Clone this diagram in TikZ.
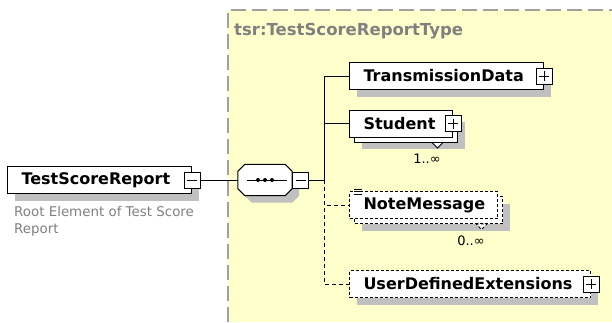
\documentclass[tikz,border=0pt]{standalone}
\usepackage{fontspec}
\setmainfont{DejaVu Sans}
\usetikzlibrary{shadows}

\definecolor{panelyellow}{HTML}{FFFFCC}
\definecolor{shadowgray}{HTML}{C0C0C0}
\definecolor{notegray}{HTML}{808080}
\definecolor{bordergray}{HTML}{A0A0A0}

\begin{document}
\begin{tikzpicture}[
    x=1pt, y=-1pt,
    elem/.style={rectangle, draw, fill=white, line width=1pt, minimum height=27pt, inner xsep=14pt, inner ysep=0pt, align=left, anchor=west, font=\bfseries\fontsize{16pt}{18pt}\selectfont},
    optional/.style={dash pattern=on 3pt off 2pt},
    shadowed/.style={drop shadow={shadow xshift=7pt, shadow yshift=-7pt, fill=shadowgray, opacity=1}},
    pm/.style={rectangle, draw, fill=white, line width=0.9pt, minimum size=16pt, inner sep=0pt},
    minus/.style={pm, path picture={\draw[line width=0.9pt] ([xshift=3pt]path picture bounding box.west) -- ([xshift=-3pt]path picture bounding box.east);}},
    plus/.style={pm, path picture={\draw[line width=0.9pt] ([xshift=3pt]path picture bounding box.west) -- ([xshift=-3pt]path picture bounding box.east) ([yshift=-3pt]path picture bounding box.north) -- ([yshift=3pt]path picture bounding box.south);}},
    seqbox/.style={rectangle, minimum width=54pt, minimum height=31pt, inner sep=0pt},
    octagon/.style={insert path={([xshift=7pt]#1.north west) -- ([xshift=-7pt]#1.north east) -- ([yshift=-7pt]#1.north east) -- ([yshift=7pt]#1.south east) -- ([xshift=-7pt]#1.south east) -- ([xshift=7pt]#1.south west) -- ([yshift=7pt]#1.south west) -- ([yshift=-7pt]#1.north west) -- cycle}},
    conn/.style={line width=1pt},
    optconn/.style={line width=1pt, dash pattern=on 4pt off 3pt},
    occurs/.style={font=\fontsize{13pt}{15pt}\selectfont}
]
\useasboundingbox (0,0) rectangle (612,322);

% Complex type panel
\fill[panelyellow] (228,10) rectangle (612,322);
\draw[bordergray, line width=1.5pt, dash pattern=on 15pt off 6pt] (228,322) -- (228,10) -- (612,10);
\node[font=\bfseries\fontsize{16.5pt}{18pt}\selectfont, text=notegray, anchor=west, inner sep=0pt] (typename) at (234,31) {tsr:TestScoreReportType};

% Root element
\node[elem, shadowed, text width=156pt] (tsr) at (7,180) {TestScoreReport};
\node[minus] (tsrminus) at (tsr.east) {};
\node[anchor=north west, inner sep=0pt, text=notegray, align=left, font=\fontsize{13.4pt}{17pt}\selectfont] (tsrdoc) at (14,206) {Root Element of Test Score\\Report};

% Sequence compositor
\node[seqbox] (seqshade) at (272,187) {};
\node[seqbox] (seq) at (265,180) {};
\fill[shadowgray, octagon=seqshade];
\draw[fill=white, line width=1pt, octagon=seq];
\draw[line width=1pt] ([xshift=9pt]seq.west) -- ([xshift=-5pt]seq.east);
\foreach \dx in {-7,0,7}
    \fill ([xshift=\dx pt]seq.center) circle (2pt);
\node[minus, anchor=west] (seqminus) at (seq.east) {};

% Children
\node[elem, shadowed, text width=166pt] (td) at (349,76) {TransmissionData};
\node[plus] (tdplus) at (td.east) {};

\node[elem, shadowed, text width=75pt] (stuback) at (354,128.5) {};
\node[elem, text width=75pt] (stu) at (349,123.5) {Student};
\node[plus] (stuplus) at (stu.east) {};
\draw[fill=white, line width=0.8pt] ([xshift=-26pt]stuback.south east) -- ++(11,0) -- ++(-5.5,5.5) -- cycle;
\node[occurs] (stuocc) at (427,159) {1..∞};

\node[elem, optional, shadowed, text width=120pt] (noteback) at (354,210) {};
\node[elem, optional, text width=120pt] (note) at (349,205) {NoteMessage};
\foreach \dy in {2,-0.5,-3}
    \draw[line width=0.7pt] ([xshift=5pt,yshift=\dy pt]note.north west) -- ++(8,0);
\draw[fill=white, line width=0.8pt, optional] ([xshift=-27pt]noteback.south east) -- ++(11,0) -- ++(-5.5,5.5) -- cycle;
\node[occurs] (noteocc) at (471,241) {0..∞};

\node[elem, optional, shadowed, text width=213pt] (ude) at (349,284) {UserDefinedExtensions};
\node[plus] (udeplus) at (ude.east) {};

% Connectors
\draw[conn] (tsrminus.east) -- (seq.west);
\draw[conn] (seqminus.east) -- ++(15,0) coordinate (fork);
\draw[conn] (fork) |- (td.west);
\draw[conn] (fork) |- (stu.west);
\draw[optconn] (fork) |- (note.west);
\draw[optconn] (fork) |- (ude.west);

\end{tikzpicture}
\end{document}
